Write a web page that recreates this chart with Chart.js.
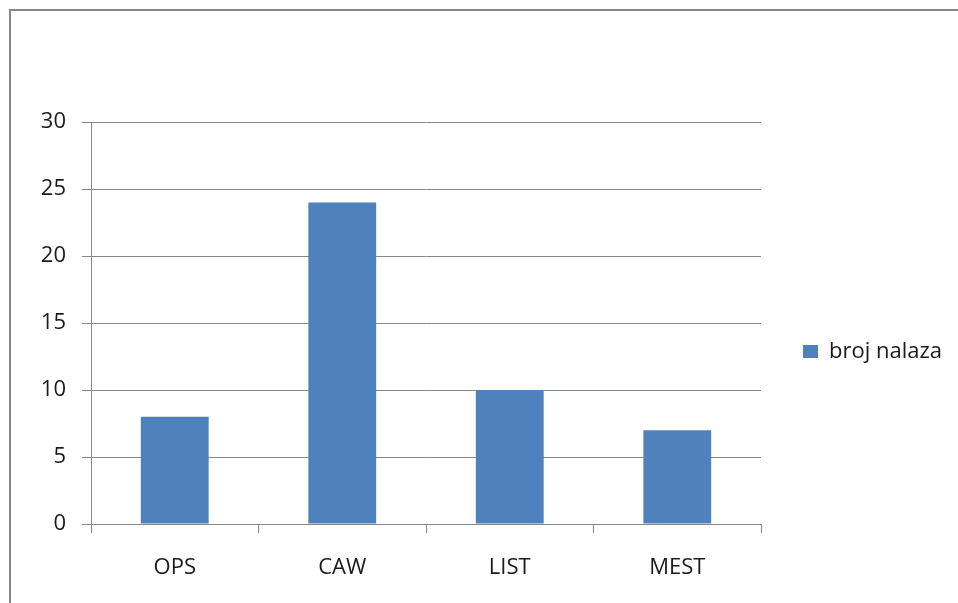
<!DOCTYPE html>
<html>
<head>
<meta charset="utf-8">
<script src="https://cdn.jsdelivr.net/npm/chart.js@4"></script>
<style>
  html, body { margin: 0; padding: 0; background: #fff; overflow: hidden; }
  #wrap { position: relative; width: 958px; height: 603px; }
  #frame { position: absolute; left: 9px; top: 9px; width: 2000px; height: 2000px;
           border-top: 2px solid #888; border-left: 2px solid #888; box-sizing: border-box; }
  #chart { position: absolute; left: 0; top: 0; }
</style>
</head>
<body>
<div id="wrap">
  <div id="frame"></div>
  <canvas id="chart" width="958" height="603"></canvas>
</div>
<script>
// data
const categories = ["OPS", "CAW", "LIST", "MEST"];
const seriesName = "broj nalaza";
const seriesValues = [8, 24, 10, 7];
const yTicks = [0, 5, 10, 15, 20, 25, 30];

const gridColor = "#888888";
const textColor = "#1a1a1a";
const fontFamily = "'Open Sans', sans-serif";

const ctx = document.getElementById("chart").getContext("2d");

const chart = new Chart(ctx, {
  type: "bar",
  data: {
    labels: categories,
    datasets: [{
      label: seriesName,
      data: seriesValues,
      backgroundColor: "#4F81BD",
      borderWidth: 0,
      categoryPercentage: 1.0,
      barPercentage: 0.405
    }]
  },
  options: {
    responsive: false,
    animation: false,
    layout: {
      padding: { left: 0, right: 6, top: 122, bottom: 22 }
    },
    plugins: {
      tooltip: { enabled: false },
      legend: {
        position: "right",
        labels: {
          boxWidth: 15,
          boxHeight: 13,
          padding: 42,
          color: textColor,
          font: { family: fontFamily, size: 22 }
        }
      }
    },
    scales: {
      x: {
        afterFit: (scale) => { scale.height = 57; },
        grid: {
          offset: true,
          drawOnChartArea: false,
          drawTicks: true,
          tickLength: 9,
          color: gridColor
        },
        border: { color: gridColor, width: 1 },
        ticks: {
          padding: 22,
          color: textColor,
          font: { family: fontFamily, size: 22 }
        }
      },
      y: {
        min: yTicks[0],
        max: yTicks[yTicks.length - 1],
        afterFit: (scale) => { scale.width = 91; },
        afterBuildTicks: (scale) => { scale.ticks = yTicks.map(v => ({ value: v })); },
        grid: {
          color: gridColor,
          tickLength: 9
        },
        border: { color: gridColor, width: 1 },
        ticks: {
          padding: 16,
          color: textColor,
          font: { family: fontFamily, size: 22 }
        }
      }
    }
  }
});
</script>
</body>
</html>
